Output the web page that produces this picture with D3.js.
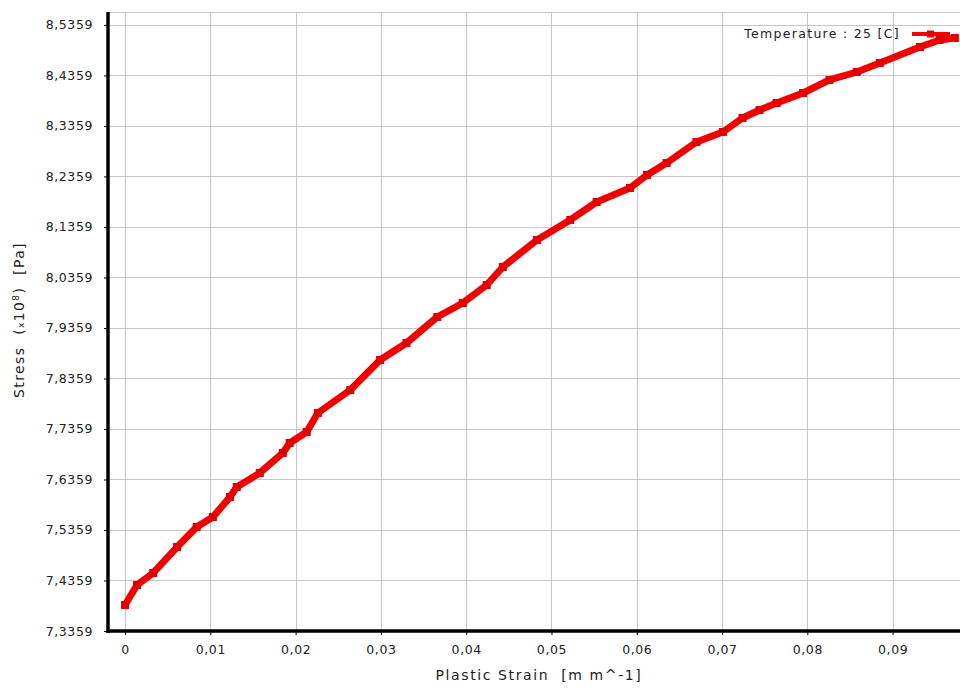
<!DOCTYPE html>
<html>
<head>
<meta charset="utf-8">
<script src="https://cdn.jsdelivr.net/npm/d3@7"></script>
<style>
body { margin: 0; background: #fff; }
text { font-family: "DejaVu Sans", sans-serif; fill: #222; white-space: pre; }
</style>
</head>
<body>
<svg id="chart" width="960" height="688"></svg>
<script>
// plastic strain [m m^-1]
var strain = [0.0000, 0.0014, 0.0033, 0.0061, 0.0084, 0.0103, 0.0123, 0.0131, 0.0158, 0.0185,
    0.0193, 0.0213, 0.0226, 0.0264, 0.0299, 0.0330, 0.0366, 0.0396, 0.0424, 0.0443,
    0.0483, 0.0522, 0.0553, 0.0592, 0.0612, 0.0635, 0.0670, 0.0701, 0.0724, 0.0744,
    0.0764, 0.0795, 0.0826, 0.0858, 0.0885, 0.0932, 0.0955, 0.0973]
// stress [x10^8 Pa]
var stress = [7.3874, 7.4270, 7.4508, 7.5022, 7.5418, 7.5616, 7.6012, 7.6210, 7.6488, 7.6884,
    7.7082, 7.7300, 7.7676, 7.8131, 7.8725, 7.9062, 7.9577, 7.9854, 8.0210, 8.0567,
    8.1102, 8.1498, 8.1854, 8.2131, 8.2389, 8.2626, 8.3042, 8.3240, 8.3517, 8.3676,
    8.3814, 8.4012, 8.4270, 8.4428, 8.4607, 8.4923, 8.5062, 8.5101]

var xTicks = [0, 0.01, 0.02, 0.03, 0.04, 0.05, 0.06, 0.07, 0.08, 0.09]
var yTicks = [7.3359, 7.4359, 7.5359, 7.6359, 7.7359, 7.8359, 7.9359, 8.0359, 8.1359, 8.2359, 8.3359, 8.4359, 8.5359]
var seriesName = "Temperature : 25 [C]"

var plotL = 108, plotT = 12, plotR = 960, plotB = 631

var x = d3.scaleLinear().domain([-0.0020, 0.0979]).range([plotL, plotR])
var y = d3.scaleLinear().domain([7.3359, 8.5616]).range([plotB, plotT])

var svg = d3.select("#chart")

function comma(v, f) { return d3.format(f)(v).replace(".", ",") }

// grid
var grid = svg.append("g").attr("stroke", "#c6c6c6").attr("stroke-width", 1)
grid.selectAll(".vx").data(xTicks).enter().append("line")
    .attr("x1", d => Math.round(x(d)) + 0.5).attr("x2", d => Math.round(x(d)) + 0.5)
    .attr("y1", plotT).attr("y2", plotB)
grid.selectAll(".hy").data(yTicks).enter().append("line")
    .attr("x1", plotL).attr("x2", plotR)
    .attr("y1", d => Math.round(y(d)) + 0.5).attr("y2", d => Math.round(y(d)) + 0.5)
grid.append("line").attr("x1", plotL).attr("x2", plotR).attr("y1", plotT + 0.5).attr("y2", plotT + 0.5)

// axes
var xAxis = d3.axisBottom(x).tickValues(xTicks).tickSize(4).tickPadding(10)
    .tickFormat(d => d == 0 ? "0" : comma(d, ".2f"))
var yAxis = d3.axisLeft(y).tickValues(yTicks).tickSize(4).tickPadding(11)
    .tickFormat(d => comma(d, ".4f"))

var gx = svg.append("g").attr("transform", "translate(0," + plotB + ")").call(xAxis)
var gy = svg.append("g").attr("transform", "translate(" + plotL + ",0)").call(yAxis)
gx.select(".domain").remove()
gy.select(".domain").remove()
svg.selectAll(".tick text").style("font-family", "DejaVu Sans").style("font-size", "12.5px")
    .style("letter-spacing", "0.6px").attr("fill", "#222")
svg.selectAll(".tick line").attr("stroke", "#000")

svg.append("line").attr("x1", plotL).attr("x2", plotL).attr("y1", plotT).attr("y2", plotB + 2)
    .attr("stroke", "#000").attr("stroke-width", 3.5)
svg.append("line").attr("x1", plotL - 1.5).attr("x2", plotR).attr("y1", plotB).attr("y2", plotB)
    .attr("stroke", "#000").attr("stroke-width", 3.5)

// titles
svg.append("text").attr("x", 539).attr("y", 680).attr("text-anchor", "middle")
    .style("font-size", "14px").style("letter-spacing", "1.6px").text("Plastic Strain  [m m^-1]")
var yt = svg.append("text").attr("transform", "translate(24," + 320 + ") rotate(-90)")
    .attr("text-anchor", "middle").style("font-size", "14px").style("letter-spacing", "1.4px")
yt.append("tspan").text("Stress  (")
yt.append("tspan").style("font-size", "9px").text("x")
yt.append("tspan").text("10")
yt.append("tspan").style("font-size", "9px").attr("dy", -5).text("8")
yt.append("tspan").attr("dy", 5).text(")  [Pa]")

// series
var pts = strain.map((d, i) => [d, stress[i]])
var red = "#f20000"
svg.append("path").datum(pts)
    .attr("fill", "none").attr("stroke", red).attr("stroke-width", 7).attr("stroke-linejoin", "round")
    .attr("d", d3.line().x(d => x(d[0])).y(d => y(d[1])))
svg.selectAll(".mk").data(pts).enter().append("rect")
    .attr("x", d => x(d[0]) - 4).attr("y", d => y(d[1]) - 4)
    .attr("width", 8).attr("height", 8).attr("fill", "#e00000")

// legend
svg.append("text").attr("x", 900).attr("y", 38).attr("text-anchor", "end")
    .style("font-size", "12.5px").style("letter-spacing", "1.3px").text(seriesName)
svg.append("line").attr("x1", 912).attr("x2", 950).attr("y1", 34).attr("y2", 34)
    .attr("stroke", red).attr("stroke-width", 4)
svg.append("rect").attr("x", 927).attr("y", 30.5).attr("width", 7).attr("height", 7).attr("fill", "#e00000")
</script>
</body>
</html>
